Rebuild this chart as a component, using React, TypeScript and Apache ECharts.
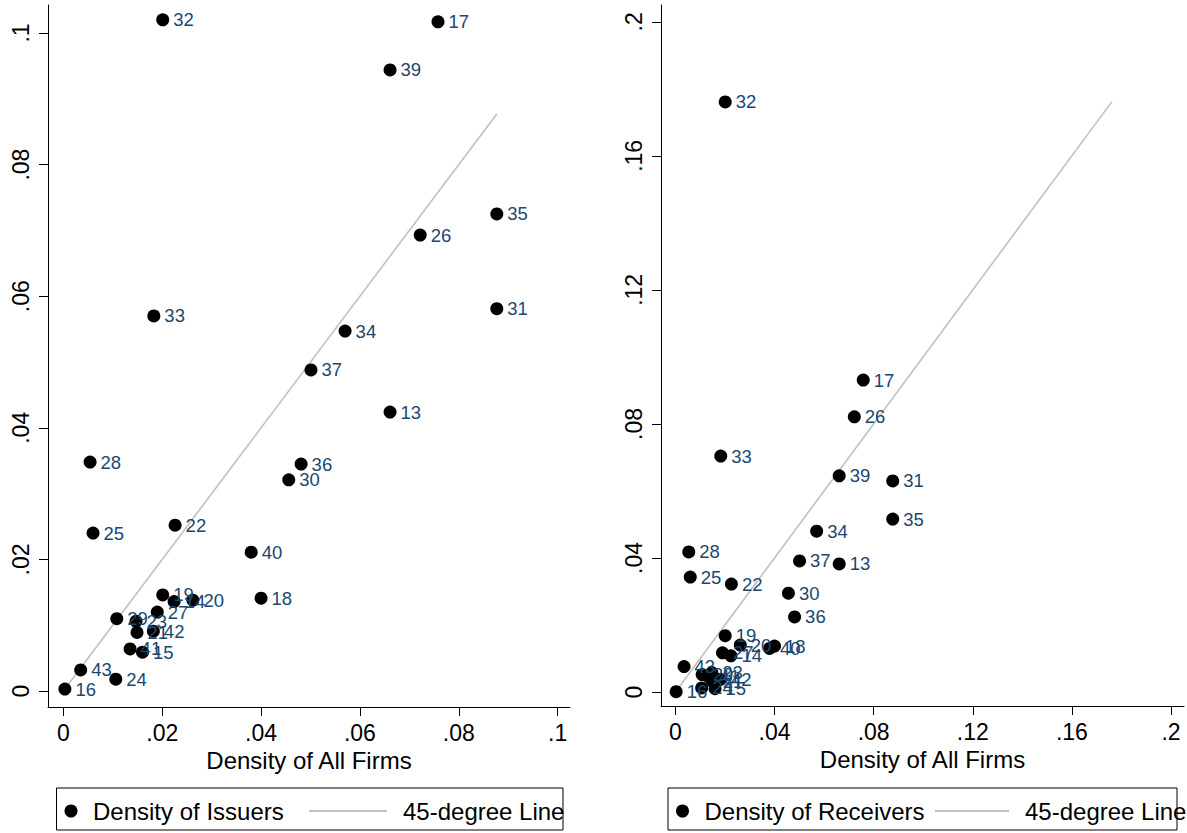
import React, { useEffect, useRef } from "react";
import * as echarts from "echarts";

// Industry ids (point labels)
const ids = ["32","17","39","35","26","31","33","34","37","13","28","36","30","25","22","40","18","19","14","20","27","29","23","21","42","41","15","43","24","16"];
// Density of All Firms (x, both panels)
const allFirms = [0.0201,0.0758,0.0661,0.0877,0.0722,0.0877,0.0183,0.0570,0.0501,0.0661,0.0054,0.0481,0.0456,0.0060,0.0226,0.0380,0.0400,0.0201,0.0224,0.0262,0.0190,0.0108,0.0147,0.0149,0.0182,0.0135,0.0160,0.0035,0.0106,0.0003];
// Density of Issuers (y, left panel)
const issuers = [0.1020,0.1017,0.0944,0.0725,0.0693,0.0581,0.0570,0.0547,0.0488,0.0424,0.0348,0.0345,0.0321,0.0240,0.0252,0.0211,0.0141,0.0146,0.0136,0.0138,0.0120,0.0110,0.0106,0.0089,0.0091,0.0064,0.0059,0.0032,0.0018,0.0003];
// Density of Receivers (y, right panel)
const receivers = [0.1761,0.0931,0.0645,0.0516,0.0821,0.0630,0.0704,0.0480,0.0391,0.0382,0.0418,0.0224,0.0295,0.0343,0.0322,0.0130,0.0137,0.0168,0.0108,0.0140,0.0117,0.0052,0.0058,0.0032,0.0038,0.0045,0.0010,0.0076,0.0012,0.0001];

const leftTicks = [0, 0.02, 0.04, 0.06, 0.08, 0.1];
const rightTicks = [0, 0.04, 0.08, 0.12, 0.16, 0.2];

const FONT = "'Liberation Sans', Arial, Helvetica, sans-serif";
const NAVY = "#1a476f";
const LINEGRAY = "#c0c0c0";

const fmt = (v: number) => {
  if (Math.abs(v) < 1e-9) return "0";
  return String(+v.toFixed(2)).replace(/^0/, "");
};

function makeAxis(gridIndex: number, min: number, max: number, ticks: number[], isX: boolean, name?: string) {
  const ax: any = {
    type: "value",
    gridIndex,
    min,
    max,
    splitLine: { show: false },
    axisLine: { show: true, onZero: false, lineStyle: { color: "#000", width: 1 } },
    axisTick: { show: true, length: 9, customValues: ticks, lineStyle: { color: "#000", width: 1 } },
    axisLabel: {
      customValues: ticks,
      formatter: (v: number) => fmt(v),
      color: "#000",
      fontFamily: FONT,
      fontSize: 23,
      margin: isX ? 14 : 16,
      rotate: isX ? 0 : 90,
      showMinLabel: true,
      showMaxLabel: true,
    },
  };
  if (name) {
    ax.name = name;
    ax.nameLocation = "middle";
    ax.nameGap = 39;
    ax.nameTextStyle = { color: "#000", fontFamily: FONT, fontSize: 24, verticalAlign: "top" };
  }
  return ax;
}

function points(ys: number[]) {
  return ids.map((id, i) => ({ name: id, value: [allFirms[i], ys[i]] }));
}

function scatter(xi: number, ys: number[]) {
  return {
    type: "scatter",
    xAxisIndex: xi,
    yAxisIndex: xi,
    data: points(ys),
    symbol: "circle",
    symbolSize: 13,
    itemStyle: { color: "#000", opacity: 1 },
    label: {
      show: true,
      position: "right",
      distance: 4,
      formatter: (p: any) => p.name,
      color: NAVY,
      fontFamily: FONT,
      fontSize: 18.5,
    },
    emphasis: { disabled: true },
    z: 3,
  };
}

function diag(xi: number, lo: number, hi: number) {
  return {
    type: "line",
    xAxisIndex: xi,
    yAxisIndex: xi,
    data: [[lo, lo], [hi, hi]],
    symbol: "none",
    lineStyle: { color: LINEGRAY, width: 1.6 },
    z: 2,
    silent: true,
  };
}

function legendGroup(x: number, w: number, markerX: number, textX: number, label: string, lineX1: number, lineX2: number, text2X: number) {
  const cy = 811;
  return [
    { type: "circle", shape: { cx: markerX, cy, r: 6.5 }, style: { fill: "#000" } },
    { type: "text", x: textX, y: cy, style: { text: label, font: `24px ${FONT}`, fill: "#000", verticalAlign: "middle" } },
    { type: "line", shape: { x1: lineX1, y1: cy, x2: lineX2, y2: cy }, style: { stroke: LINEGRAY, lineWidth: 2 } },
    { type: "text", x: text2X, y: cy, style: { text: "45-degree Line", font: `24px ${FONT}`, fill: "#000", verticalAlign: "middle" } },
    { type: "rect", shape: { x, y: 788, width: w, height: 42 }, style: { fill: "none", stroke: "#000", lineWidth: 1 }, z: 10 },
  ];
}

export default function App() {
  const ref = useRef<HTMLDivElement>(null);
  useEffect(() => {
    if (!ref.current) return;
    const chart = echarts.init(ref.current, null, { renderer: "svg" });
    const leftLo = Math.min(...allFirms);
    const leftHi = Math.max(...allFirms);
    const rightLo = Math.min(...receivers);
    const rightHi = Math.max(...receivers);
    chart.setOption({
      animation: false,
      backgroundColor: "#fff",
      grid: [
        { left: 48, top: 5, width: 522, height: 702 },
        { left: 661, top: 5, width: 523, height: 701 },
      ],
      xAxis: [
        makeAxis(0, -0.003116, 0.10251, leftTicks, true, "Density of All Firms"),
        makeAxis(1, -0.00581, 0.20524, rightTicks, true, "Density of All Firms"),
      ],
      yAxis: [
        makeAxis(0, -0.00243, 0.10426, leftTicks, false),
        makeAxis(1, -0.00418, 0.20501, rightTicks, false),
      ],
      series: [
        diag(0, leftLo, leftHi),
        scatter(0, issuers),
        diag(1, rightLo, rightHi),
        scatter(1, receivers),
      ],
      graphic: [
        ...legendGroup(56.5, 506.5, 71, 93, "Density of Issuers", 309, 387, 403),
        ...legendGroup(668, 509, 682.5, 704.5, "Density of Receivers", 935, 1009, 1025),
      ],
    });
    return () => chart.dispose();
  }, []);
  return (
    <div
      ref={ref}
      style={{ position: "fixed", left: 0, top: 0, width: 1187, height: 833, background: "#fff" }}
    />
  );
}
